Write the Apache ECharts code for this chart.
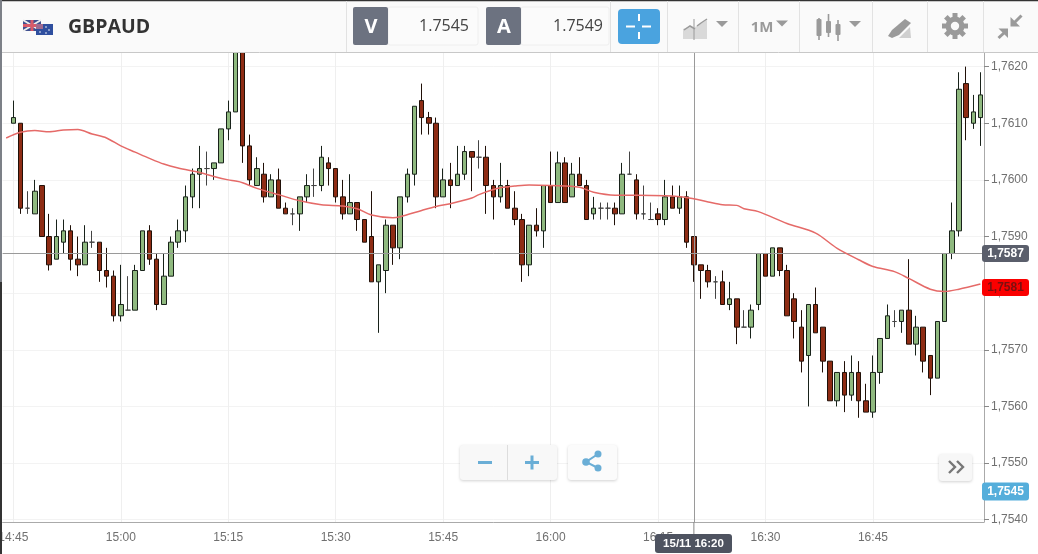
<!DOCTYPE html>
<html><head><meta charset="utf-8">
<style>html,body{margin:0;padding:0;background:#fff;overflow:hidden}#c{width:1038px;height:554px}</style>
<script src="https://cdn.jsdelivr.net/npm/echarts@6/dist/echarts.min.js"></script>
</head><body><div id="c"></div>
<script>
// Prices in 1/10000 units (17610 = 1.7610), one entry per 1-minute candle from 14:45.
const opens=[17610,17610,17595,17594,17599,17590,17586,17589,17591,17586,17585,17589,17589,17584,17583,17576,17577,17577,17584,17591,17586,17578,17583,17589,17591,17597,17601,17602,17602,17603,17609,17612,17624,17606,17599,17601,17597,17600,17595,17594,17594,17597,17599,17599,17603,17602,17597,17594,17596,17593,17590,17582,17584,17592,17588,17597,17601,17614,17611,17610,17597,17600,17599,17601,17605,17604,17604,17599,17597,17599,17595,17593,17585,17592,17591,17599,17596,17603,17597,17601,17599,17594,17595,17595,17595,17594,17601,17600,17594,17593,17594,17593,17597,17595,17597,17590,17585,17584,17582,17582,17578,17579,17574,17574,17578,17587,17583,17588,17584,17579,17574,17569,17578,17574,17568,17561,17566,17562,17566,17561,17559,17566,17572,17575,17575,17577,17571,17574,17569,17565,17575,17587,17591,17617,17610,17611];
const closes=[17611,17595,17595,17598,17590,17585,17590,17591,17586,17585,17589,17589,17584,17583,17576,17578,17577,17584,17591,17586,17578,17583,17589,17591,17597,17601,17602,17602,17603,17609,17612,17624,17606,17600,17602,17597,17600,17595,17594,17594,17597,17599,17599,17604,17602,17597,17594,17596,17593,17589,17582,17585,17592,17588,17597,17601,17613,17611,17610,17597,17600,17599,17601,17605,17604,17604,17599,17597,17599,17595,17593,17585,17592,17591,17599,17596,17603,17596,17601,17599,17593,17595,17595,17595,17594,17601,17601,17594,17594,17593,17593,17597,17595,17597,17589,17585,17584,17582,17582,17578,17579,17574,17574,17577,17587,17583,17588,17584,17576,17575,17568,17578,17573,17568,17561,17566,17562,17566,17561,17559,17566,17572,17576,17575,17577,17571,17574,17568,17565,17575,17587,17591,17616,17611,17612,17615];
const lows=[17610,17594,17594,17594,17590,17584,17586,17587,17584,17583,17585,17588,17582,17581,17575,17575,17577,17577,17584,17585,17577,17578,17583,17588,17589,17595,17595,17599,17600,17603,17607,17612,17603,17599,17599,17596,17597,17595,17594,17592,17591,17596,17597,17598,17599,17596,17593,17594,17591,17589,17582,17573,17580,17585,17586,17596,17599,17608,17608,17595,17597,17595,17599,17600,17598,17602,17594,17593,17596,17595,17592,17582,17583,17590,17588,17596,17596,17596,17597,17599,17593,17593,17593,17593,17592,17594,17601,17593,17593,17593,17592,17592,17595,17594,17588,17582,17579,17581,17579,17578,17577,17571,17574,17572,17577,17583,17583,17583,17576,17572,17566,17560,17573,17566,17561,17560,17559,17561,17558,17559,17558,17564,17572,17574,17573,17571,17569,17566,17562,17565,17575,17586,17590,17607,17609,17606];
const highs=[17614,17610,17598,17600,17599,17594,17593,17593,17592,17590,17592,17591,17589,17588,17584,17585,17583,17585,17591,17592,17587,17587,17590,17593,17599,17602,17606,17605,17603,17609,17614,17624,17624,17608,17604,17603,17601,17602,17596,17595,17597,17601,17602,17606,17604,17602,17600,17601,17596,17593,17598,17585,17593,17592,17597,17602,17613,17617,17612,17611,17602,17603,17606,17606,17605,17607,17606,17600,17603,17600,17598,17594,17592,17595,17599,17605,17605,17604,17603,17604,17600,17597,17596,17596,17596,17603,17605,17601,17599,17596,17595,17600,17599,17599,17598,17590,17585,17585,17583,17584,17582,17579,17577,17578,17587,17587,17588,17588,17585,17580,17577,17578,17581,17574,17568,17566,17568,17569,17568,17564,17569,17572,17578,17577,17577,17586,17576,17574,17569,17575,17587,17596,17619,17620,17615,17619];

// Moving average: axis position (0 = the minute before 14:45) and level.
const maPos=[0,2,4,6,8,10,12,14,16,18,20,22,24,27,29,31,32,33,35,38,41,44,47,49,51,54,55,58,60,62,65,66,68,69,71,73,76,80,82,85,88,92,95,98,100,102,103,105,109,113,116,119,121,124,126,129,131,133,136];
const maVal=[1.76074,1.76084,1.76087,1.76085,1.76088,1.76089,1.76081,1.76074,1.7606,1.76049,1.76038,1.76028,1.76021,1.76013,1.76006,1.76,1.75998,1.75995,1.75985,1.75974,1.75963,1.75956,1.75954,1.75949,1.75938,1.75933,1.75935,1.75946,1.75953,1.75958,1.75968,1.75974,1.75983,1.75986,1.75989,1.75991,1.7599,1.75987,1.75978,1.75973,1.75973,1.75972,1.75969,1.75961,1.75956,1.75955,1.75949,1.75944,1.75923,1.75906,1.75879,1.75859,1.75847,1.75838,1.75826,1.75807,1.75803,1.75807,1.75816];

const timeTicks=['14:45','15:00','15:15','15:30','15:45','16:00','16:15','16:30','16:45'];
const priceTicks=[1.754,1.755,1.756,1.757,1.758,1.759,1.76,1.761,1.762];
const symbol='GBPAUD', sellQuote='1.7545', buyQuote='1.7549', period='1M';
const crossPrice=1.7587, crossTime='16:20', crossStamp='15/11 16:20';
const lastPrice=1.7581, sellPrice=1.7545;

const pad=n=>String(n).padStart(2,'0');
const cats=[];
for(let i=0;i<137;i++){const m=14*60+44+i;cats.push(pad(Math.floor(m/60))+':'+pad(m%60));}
const candles=[['-','-','-','-']].concat(opens.map((o,i)=>[o/1e4,closes[i]/1e4,lows[i]/1e4,highs[i]/1e4]));
const maData=maPos.map((p,i)=>[p,maVal[i]]);
const isTick=(i,v)=>timeTicks.indexOf(v)>=0;
const comma=v=>Number(v).toFixed(4).replace('.',',');
const FONT='"Liberation Sans",Arial,sans-serif', UI='"Open Sans",sans-serif';

const chart=echarts.init(document.getElementById('c'));
chart.setOption({
  animation:false,
  backgroundColor:'#fff',
  grid:{left:2.6,top:53,width:981.4,height:469,containLabel:false,outerBoundsMode:'none'},
  xAxis:{type:'category',data:cats,boundaryGap:true,
    axisLine:{lineStyle:{color:'#aaaaaa',width:1}},
    axisTick:{alignWithLabel:true,interval:isTick,length:5,lineStyle:{color:'#777'}},
    splitLine:{show:true,alignWithLabel:true,interval:isTick,lineStyle:{color:'#efefef'}},
    axisLabel:{interval:isTick,color:'#707070',fontFamily:FONT,fontSize:12,margin:10,hideOverlap:false}},
  yAxis:{type:'value',position:'right',min:1.75396,max:1.76224,scale:true,
    axisLine:{show:true,lineStyle:{color:'#aaaaaa'}},
    axisTick:{show:true,length:5,customValues:priceTicks,lineStyle:{color:'#888'}},
    splitLine:{show:true,lineStyle:{color:'#f3f3f3'}},
    axisLabel:{customValues:priceTicks,formatter:comma,color:'#707070',fontFamily:FONT,fontSize:12,margin:7}},
  series:[
    {type:'candlestick',data:candles,barWidth:5,
     itemStyle:{color:'#8fb97f',color0:'#8e2c14',borderColor:'#18221a',borderColor0:'#201008',borderColorDoji:'#444',borderWidth:1}},
    {type:'line',data:maData,showSymbol:false,smooth:0.3,z:5,silent:true,
     lineStyle:{color:'#e56a68',width:1.5},
     markLine:{silent:true,symbol:'none',precision:4,label:{show:false},animation:false,
       lineStyle:{color:'#9a9a9a',width:1,type:'solid'},
       data:[{yAxis:crossPrice},{xAxis:crossTime}]}}
  ]
});

const crossY=chart.convertToPixel({yAxisIndex:0},crossPrice);
const lastY=chart.convertToPixel({yAxisIndex:0},lastPrice);
const sellY=chart.convertToPixel({yAxisIndex:0},sellPrice);
const crossX=chart.convertToPixel({xAxisIndex:0},crossTime);

const rect=(x,y,w,h,fill,r,extra)=>Object.assign({type:'rect',shape:{x,y,width:w,height:h,r:r||0},style:Object.assign({fill},extra||{})},{});
const line=(x1,y1,x2,y2,stroke,w)=>({type:'line',shape:{x1,y1,x2,y2},style:{stroke,lineWidth:w||1}});
const txt=(x,y,text,font,fill,align)=>({type:'text',x,y,style:{text,font,fill,align:align||'center',verticalAlign:'middle'}});
const tri=(cx,cy,c)=>({type:'polygon',shape:{points:[[cx-6,cy-3],[cx+6,cy-3],[cx,cy+3]]},style:{fill:c}});
const G='#9a9a9a', BL='#6aaed6';
const els=[];
// toolbar
els.push(rect(0,0,1038,52,'#fafafa'),line(0,52.5,1038,52.5,'#c8c8c8'),rect(0,0,1038,1.2,'#333'));
els.push(rect(0,0,2,282,'#7c8087'),rect(0,282,2,272,'#333'));
[346,610,667,738,799,872,927,983].forEach(x=>els.push(line(x+.5,1,x+.5,52,'#e2e2e2')));
// flags
els.push(rect(23,20,18,11,'#3f4f8f'),line(23,20,41,31,'#eee',2),line(41,20,23,31,'#eee',2),line(32,20,32,31,'#d85a6a',3),line(23,25.5,41,25.5,'#d85a6a',3));
els.push(rect(36,24,17,11,'#2f4f9f'),rect(36,24,7,5,'#a06a90'));
[[46,27],[49,30],[46,33],[40,32]].forEach(p=>els.push({type:'circle',shape:{cx:p[0],cy:p[1],r:.8},style:{fill:'#fff'}}));
els.push(txt(68,27,symbol,'700 19.5px '+UI,'#333','left'));
// quote boxes
els.push(rect(388,7,90,38,'#fbfbfb',2,{stroke:'#eeeeee'}),rect(353,7,35,38,'#6c7280',2));
els.push(txt(371,27,'V','700 20px '+UI,'#fff'),txt(469,26,sellQuote,'400 16px '+UI,'#444','right'));
els.push(rect(521,7,88,38,'#fbfbfb',2,{stroke:'#eeeeee'}),rect(486,7,35,38,'#6c7280',2));
els.push(txt(504,27,'A','700 20px '+UI,'#fff'),txt(603,26,buyQuote,'400 16px '+UI,'#444','right'));
// crosshair button
els.push(rect(618,9,42,35,'#4aa3df',4));
els.push(line(626,26.5,635,26.5,'#fff',2),line(642,26.5,651,26.5,'#fff',2),line(639,14,639,21,'#fff',2),line(639,32,639,39,'#fff',2));
// chart-type icon
els.push({type:'polygon',shape:{points:[[683,39],[683,29],[690,26],[695,30],[695,39]]},style:{fill:'#d9d9d9'}});
els.push({type:'polygon',shape:{points:[[695,39],[695,27],[700,24],[707,20],[707,39]]},style:{fill:'#d9d9d9'}});
els.push({type:'polyline',shape:{points:[[684,30],[690,26],[695,29]]},style:{stroke:G,lineWidth:1.5,fill:null}});
els.push({type:'polyline',shape:{points:[[697,26],[701,23],[707,19]]},style:{stroke:G,lineWidth:1.5,fill:null}});
els.push(line(694,19,694,40,G,1),tri(722,24,G));
// period
els.push(txt(762,28,period,'700 15px '+UI,G),tri(782,23.5,G));
// candle icon
[[819,19,36,18,40],[828.5,21,33,14,37],[838,24,35,20,41]].forEach(c=>{els.push(line(c[0],c[3],c[0],c[4],G,1.6),rect(c[0]-2.5,c[1],5,c[2]-c[1],G,1));});
els.push(tri(855,24,G));
// drawing icon
els.push({type:'polygon',shape:{points:[[888,36],[892,30],[905,19],[911,23],[899,35],[892,38]]},style:{fill:G}});
els.push({type:'polygon',shape:{points:[[899,38],[910,27],[911,38]]},style:{fill:'#cfcfcf'}});
// gear
for(let i=0;i<8;i++){els.push({type:'rect',x:955,y:26,rotation:i*Math.PI/4,shape:{x:-2.5,y:-13,width:5,height:6},style:{fill:G}});}
els.push({type:'ring',shape:{cx:955,cy:26,r:9.5,r0:4.2},style:{fill:G}});
// collapse arrows
els.push({type:'polygon',shape:{points:[[1010.5,17],[1010.5,26.5],[1020,26.5]]},style:{fill:G}},line(1014,23,1021.5,15.5,G,3));
els.push({type:'polygon',shape:{points:[[998.5,28.5],[1008,28.5],[1008,38]]},style:{fill:G}},line(1005,32,998.5,38,G,3));
// crosshair stem and badges
els.push(line(crossX,522,crossX,534,'#888',1));
els.push(rect(655,534,77,19,'#4e5360',3),txt(693.5,544,crossStamp,'700 11.5px '+FONT,'#fff'));
els.push(rect(982,crossY-8.5,47,17,'#5a5e6b',3),txt(1005.5,crossY+.5,comma(crossPrice),'700 12px '+FONT,'#fff'));
els.push(rect(982,lastY-8.5,47,17,'#fa0000',3),txt(1005.5,lastY+.5,comma(lastPrice),'700 12px '+FONT,'#7a1010'));
els.push(rect(982,sellY-9,47,18,'#55aedb',3),txt(1005.5,sellY+.5,comma(sellPrice),'700 12px '+FONT,'#fff'));
// zoom + share + forward buttons
const shadow={shadowColor:'rgba(0,0,0,.18)',shadowBlur:3,shadowOffsetY:1};
els.push(rect(460,445,97,35,'#f8f8f8',3,shadow),line(507.5,445,507.5,480,'#dddddd'));
els.push(line(478,462.5,492,462.5,BL,3),line(525,462.5,539,462.5,BL,3),line(532,455.5,532,469.5,BL,3));
els.push(rect(568,445,49,35,'#fbfbfb',3,shadow));
els.push({type:'polyline',shape:{points:[[598,454],[586,462],[598,468]]},style:{stroke:BL,lineWidth:2,fill:null}});
[[598,454,3.5],[586,462,3.8],[598,468,3.5]].forEach(p=>els.push({type:'circle',shape:{cx:p[0],cy:p[1],r:p[2]},style:{fill:BL}}));
els.push(rect(939,454,33,27,'#f7f7f7',3,shadow));
els.push({type:'polyline',shape:{points:[[949,461],[955,467],[949,473]]},style:{stroke:'#777',lineWidth:2.4,fill:null}});
els.push({type:'polyline',shape:{points:[[957,461],[963,467],[957,473]]},style:{stroke:'#777',lineWidth:2.4,fill:null}});
els.forEach(e=>{e.z=100;e.silent=true;});
chart.setOption({graphic:{elements:els}});
</script></body></html>
